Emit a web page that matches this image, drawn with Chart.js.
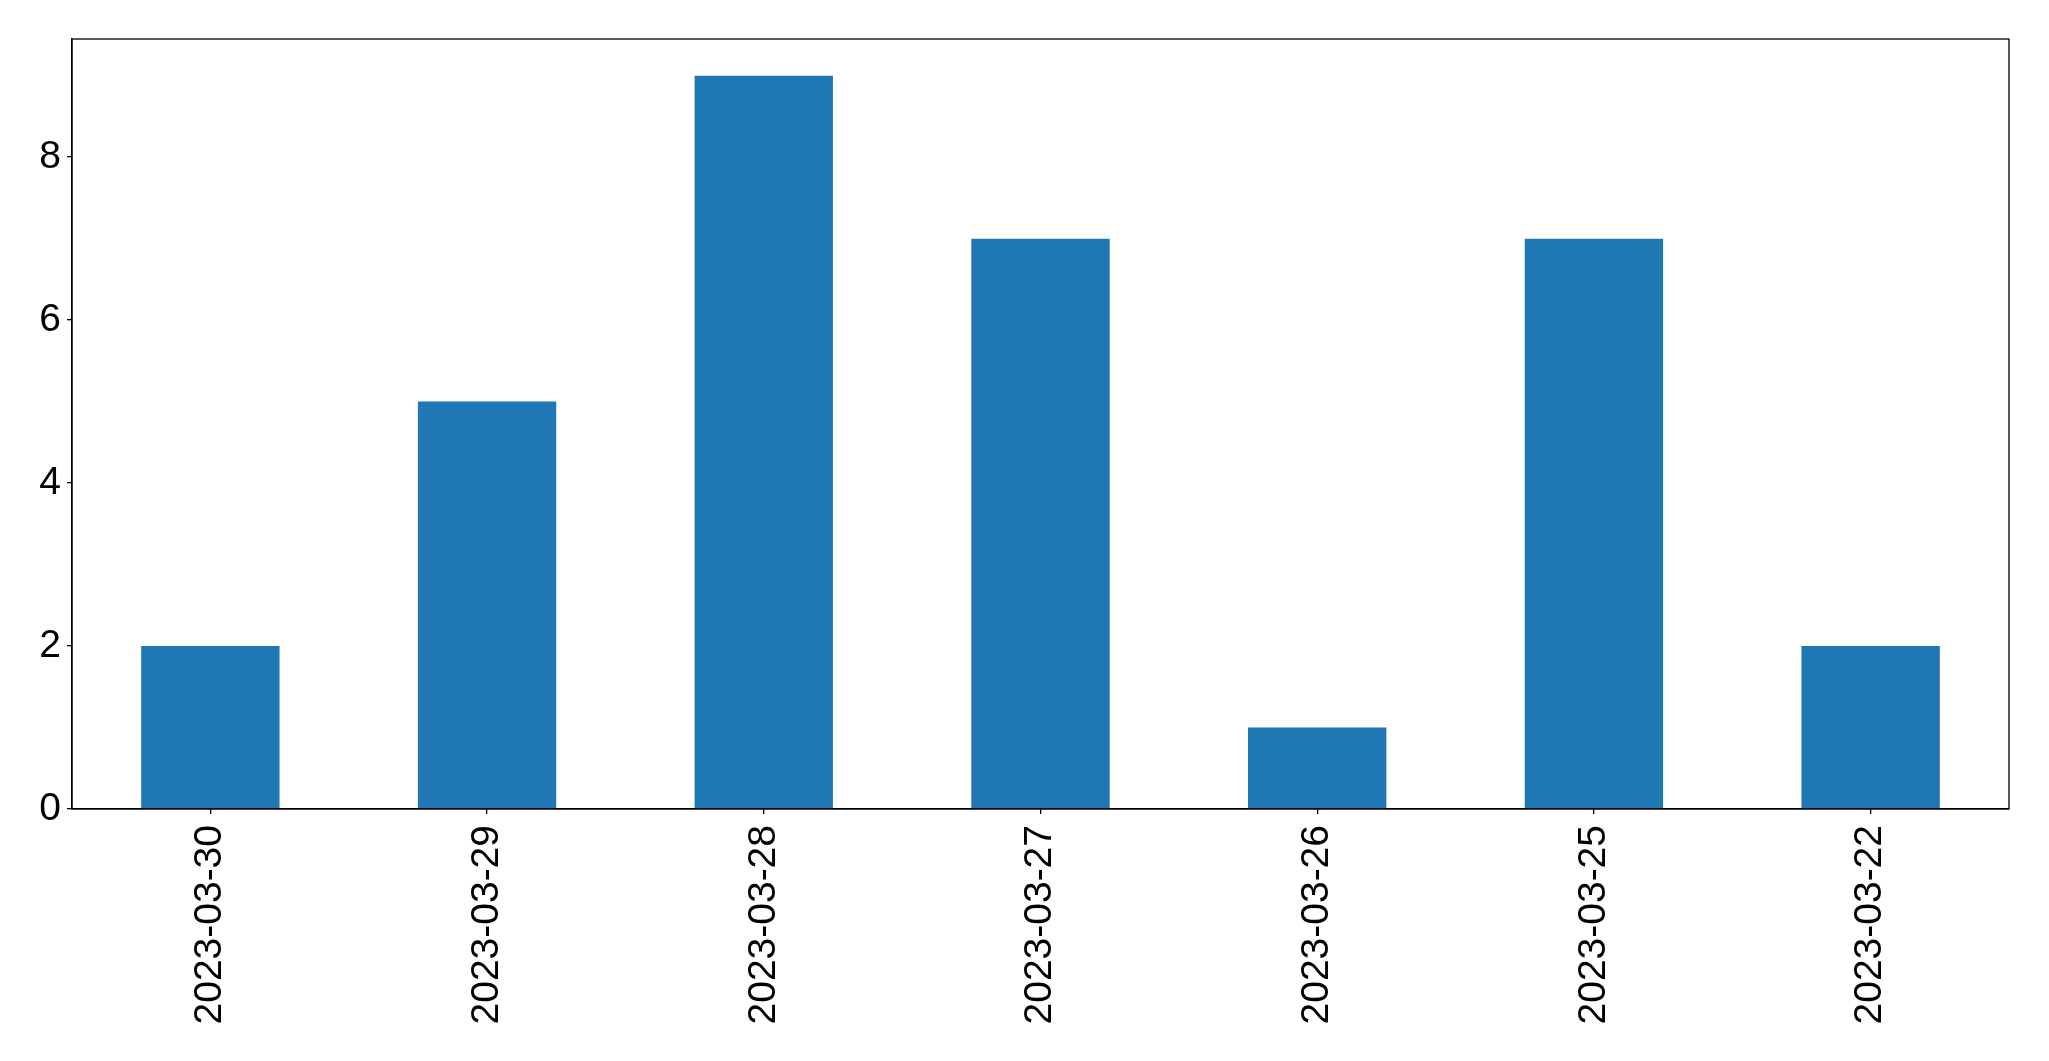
<!DOCTYPE html>
<html>
<head>
<meta charset="utf-8">
<script src="https://cdn.jsdelivr.net/npm/chart.js@4/dist/chart.umd.min.js"></script>
<style>
  html, body { margin: 0; padding: 0; background: #fff; }
  #wrap { width: 2049px; height: 1061px; }
</style>
</head>
<body>
<div id="wrap"><canvas id="chart" width="2049" height="1061"></canvas></div>
<script>
// data
const dates = ['2023-03-30', '2023-03-29', '2023-03-28', '2023-03-27', '2023-03-26', '2023-03-25', '2023-03-22'];
const counts = [2, 5, 9, 7, 1, 7, 2];
const yTicks = [0, 2, 4, 6, 8];

const fontFamily = '"Liberation Sans", Arial, sans-serif';

// frame round the plot area, like the matplotlib spines
const frame = {
  id: 'frame',
  afterDraw(chart) {
    const { ctx, chartArea: a } = chart;
    ctx.save();
    ctx.strokeStyle = '#000';
    ctx.lineWidth = 1.3;
    ctx.strokeRect(a.left, a.top, a.right - a.left, a.bottom - a.top);
    ctx.restore();
  }
};

new Chart(document.getElementById('chart'), {
  type: 'bar',
  data: {
    labels: dates,
    datasets: [{
      data: counts,
      backgroundColor: '#1f77b4',
      borderWidth: 0,
      barPercentage: 0.5,
      categoryPercentage: 1.0
    }]
  },
  options: {
    responsive: false,
    animation: false,
    layout: { padding: { top: 39, right: 40, left: 0, bottom: 0 } },
    plugins: { legend: { display: false }, tooltip: { enabled: false } },
    scales: {
      x: {
        offset: true,
        grid: { display: true, offset: false, drawOnChartArea: false, tickLength: 5, color: '#000', lineWidth: 1.3 },
        border: { display: true, color: '#000', width: 1.3 },
        ticks: {
          color: '#000',
          font: { family: fontFamily, size: 39 },
          minRotation: 90,
          maxRotation: 90,
          padding: 11,
          autoSkip: false
        },
        afterFit(scale) { scale.height = 252; }
      },
      y: {
        min: 0,
        max: 9.45,
        afterBuildTicks(scale) { scale.ticks = yTicks.map(v => ({ value: v })); },
        grid: { display: true, drawOnChartArea: false, tickLength: 5, color: '#000', lineWidth: 1.3 },
        border: { display: true, color: '#000', width: 1.3 },
        ticks: {
          color: '#000',
          font: { family: fontFamily, size: 39 },
          padding: 6
        },
        afterFit(scale) { scale.width = 72; }
      }
    }
  },
  plugins: [frame]
});
</script>
</body>
</html>
